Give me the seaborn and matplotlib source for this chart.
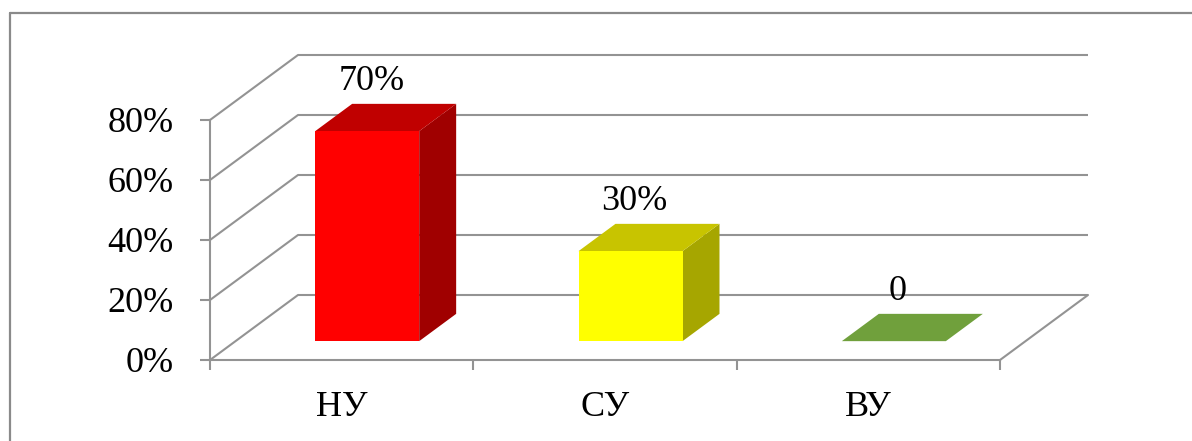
import matplotlib
matplotlib.use("Agg")
import matplotlib.pyplot as plt
import seaborn as sns
import pandas as pd
from matplotlib.ticker import PercentFormatter
from matplotlib.lines import Line2D
from matplotlib.patches import Polygon

# data
categories = ["НУ", "СУ", "ВУ"]
values = [0.70, 0.30, 0.0]
y_ticks = [0.0, 0.2, 0.4, 0.6, 0.8]

# face colours of each column: front, top, right side
front_colors = ["#FF0000", "#FFFF00", "#70A03C"]
top_colors = ["#C00000", "#C8C400", "#70A03C"]
side_colors = ["#A00000", "#A6A600", "#70A03C"]

GRID = "#939393"
LW = 1.5
FS = 26

sns.set_theme(style="white")
plt.rcParams["font.family"] = ["Liberation Serif", "DejaVu Serif"]

W, H, DPI = 1192, 441, 100
fig = plt.figure(figsize=(W / DPI, H / DPI), dpi=DPI)
fig.patch.set_facecolor("white")
ax = fig.add_axes([210 / W, (H - 360) / H, 790 / W, 240 / H])
ax.set_facecolor("none")

df = pd.DataFrame({"cat": categories, "val": values})
sns.barplot(data=df, x="cat", y="val", hue="cat", palette=front_colors,
            width=0.395, saturation=1, linewidth=0, legend=False, ax=ax)
ax.set_xlim(-0.5, 2.5)
ax.set_ylim(0, 0.8)

# oblique depth vector (pixels) converted to data units
p0 = ax.transData.transform((0, 0))
p1 = ax.transData.transform((1, 1))
ux, uy = p1[0] - p0[0], p1[1] - p0[1]
DX, DY = 88 / ux, 65 / uy


def P(x, v, d):
    return (x + d * DX, v + d * DY)


x_lo, x_hi = -0.5, 2.5

# side wall, back wall and floor
for v in y_ticks:
    pts = [P(x_lo, v, 0), P(x_lo, v, 1), P(x_hi, v, 1)]
    ax.plot(*zip(*pts), color=GRID, lw=LW, clip_on=False, zorder=1,
            solid_capstyle="butt")
ax.plot(*zip(P(x_hi, 0, 0), P(x_hi, 0, 1)), color=GRID, lw=LW,
        clip_on=False, zorder=1)

# columns: shift the seaborn front faces into depth, add top and side faces
d0, d1 = 0.29, 0.71
for i, patch in enumerate(ax.patches[:len(values)]):
    xl = patch.get_x()
    w = patch.get_width()
    xr = xl + w
    v = values[i]
    patch.set_x(xl + d0 * DX)
    patch.set_y(patch.get_y() + d0 * DY)
    patch.set_zorder(5)
    patch.set_clip_on(False)
    side = Polygon([P(xr, 0, d0), P(xr, v, d0), P(xr, v, d1), P(xr, 0, d1)],
                   closed=True, facecolor=side_colors[i], edgecolor="none",
                   zorder=4, clip_on=False)
    top = Polygon([P(xl, v, d0), P(xr, v, d0), P(xr, v, d1), P(xl, v, d1)],
                  closed=True, facecolor=top_colors[i], edgecolor="none",
                  zorder=4, clip_on=False)
    ax.add_patch(side)
    ax.add_patch(top)
    label = f"{v:.0%}" if v else "0"
    xc = xl + w / 2 + d0 * DX
    ax.annotate(label, xy=(xc, v + d1 * DY), xytext=(3, 10),
                textcoords="offset points", ha="center", va="baseline",
                fontsize=FS, color="black", zorder=6, annotation_clip=False)

# axes lines and ticks
for s in ("top", "right"):
    ax.spines[s].set_visible(False)
for s in ("left", "bottom"):
    ax.spines[s].set_visible(True)
    ax.spines[s].set_color(GRID)
    ax.spines[s].set_linewidth(LW)
    ax.spines[s].set_zorder(2)

ax.set_yticks(y_ticks)
ax.yaxis.set_major_formatter(PercentFormatter(xmax=1, decimals=0))
ax.tick_params(axis="y", which="major", left=True, length=7.2, width=LW,
               color=GRID, pad=19, labelsize=FS, labelcolor="black",
               direction="out")
ax.set_xticks(range(len(categories)), categories)
ax.set_xticks([-0.5, 0.5, 1.5, 2.5], minor=True)
ax.tick_params(axis="x", which="major", bottom=True, length=0, pad=22,
               labelsize=FS, labelcolor="black")
ax.tick_params(axis="x", which="minor", bottom=True, length=7.2, width=LW,
               color=GRID, direction="out")
ax.set_xlabel("")
ax.set_ylabel("")
ax.grid(False)

# chart area frame
fx, fy = 9.5 / W, 1 - 12.5 / H
fig.add_artist(Line2D([fx, fx], [0, fy], transform=fig.transFigure,
                      color="#8A8A8A", lw=1.6))
fig.add_artist(Line2D([fx, 1], [fy, fy], transform=fig.transFigure,
                      color="#8A8A8A", lw=1.6))

fig.savefig("out.png", dpi=DPI)
